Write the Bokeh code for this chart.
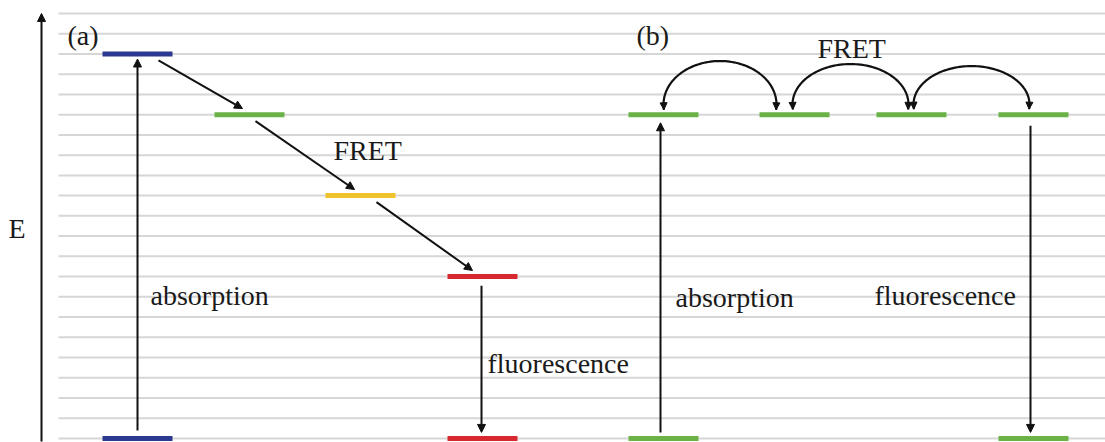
import numpy as np
from bokeh.plotting import figure
from bokeh.models import Range1d, Arrow, NormalHead
from bokeh.core.properties import value
from bokeh.embed import file_html
from bokeh.resources import INLINE

# ---------------- data ----------------
# (a) hetero-FRET cascade: excited-state energies (grid units)
a_states = ["donor 1", "donor 2", "donor 3", "acceptor"]
a_energy = [19, 16, 12, 8]
a_colors = ["#2b3990", "#6ab245", "#f0c22e", "#d7282f"]
a_ground_idx = [0, 3]            # states that show a ground level
# (b) homo-FRET: identical chromophores
b_states = ["chromophore 1", "chromophore 2", "chromophore 3", "chromophore 4"]
b_energy = [16, 16, 16, 16]
b_color = "#6ab245"
b_ground_idx = [0, 3]
b_fret_pairs = [(0, 1), (1, 2), (2, 3)]
ground_energy = 0
grid_levels = list(range(0, 22))

label_panel = ["(a)", "(b)"]
label_fret = "FRET"
label_abs = "absorption"
label_fl = "fluorescence"
label_E = "E"

# ---------------- layout (positions / styles) ----------------
W, H = 1105, 442
a_x = [137, 249, 360, 482]
b_x = [663, 794, 911, 1033]
half_w = 35
bar_w = 5
FONT = value("Liberation Serif")
FS = "28px"
TXT = "#1a1a1a"
px_per = 20.24
y0_px = 438.0

p = figure(width=W, height=H, output_backend="svg", toolbar_location=None,
           x_range=Range1d(0, W),
           y_range=Range1d(-(H - y0_px) / px_per, y0_px / px_per),
           min_border=0, background_fill_color="white", border_fill_color="white")
p.axis.visible = False
p.grid.visible = False
p.outline_line_color = None

# background grey lines
p.segment(x0=[58] * len(grid_levels), x1=[1110] * len(grid_levels),
          y0=grid_levels, y1=grid_levels, line_color="#d6d6d6", line_width=2)

# energy levels (a)
p.segment(x0=[x - half_w for x in a_x], x1=[x + half_w for x in a_x],
          y0=a_energy, y1=a_energy, line_color=a_colors, line_width=bar_w)
p.segment(x0=[a_x[i] - half_w for i in a_ground_idx], x1=[a_x[i] + half_w for i in a_ground_idx],
          y0=[ground_energy] * len(a_ground_idx), y1=[ground_energy] * len(a_ground_idx),
          line_color=[a_colors[i] for i in a_ground_idx], line_width=bar_w)
# energy levels (b)
p.segment(x0=[x - half_w for x in b_x], x1=[x + half_w for x in b_x],
          y0=b_energy, y1=b_energy, line_color=b_color, line_width=bar_w)
p.segment(x0=[b_x[i] - half_w for i in b_ground_idx], x1=[b_x[i] + half_w for i in b_ground_idx],
          y0=[ground_energy] * len(b_ground_idx), y1=[ground_energy] * len(b_ground_idx),
          line_color=b_color, line_width=bar_w)


def arrow(x0, y0, x1, y1, size=8, lw=2):
    p.add_layout(Arrow(end=NormalHead(size=size, fill_color="#111111", line_color="#111111", line_width=1),
                       x_start=x0, y_start=y0, x_end=x1, y_end=y1,
                       line_color="#111111", line_width=lw))


# E axis
arrow(41, ground_energy - 0.15, 41, grid_levels[-1], size=8)

# (a) absorption and fluorescence
arrow(a_x[0], ground_energy + 0.4, a_x[0], a_energy[0] - 0.25)
arrow(a_x[3] - 1, a_energy[3] - 0.45, a_x[3] - 1, ground_energy + 0.3)
# (a) FRET steps
start_dx = [21, 6, 16]
end_dx = [-7, -6, -10]
for i in range(3):
    arrow(a_x[i] + start_dx[i], a_energy[i] - 0.32,
          a_x[i + 1] + end_dx[i], a_energy[i + 1] + 0.3)

# (b) absorption and fluorescence
arrow(b_x[0] - 3, ground_energy + 0.3, b_x[0] - 3, b_energy[0] - 0.4)
arrow(b_x[3] - 3, b_energy[3] - 0.55, b_x[3] - 3, ground_energy + 0.3)

# (b) FRET arcs (double-headed)
arc_ends = [(0, -18), (-2, -3), (2, -4)]
arc_tops = [2.15, 2.0, 1.9]
for k, (i, j) in enumerate(b_fret_pairs):
    dxl, dxr = arc_ends[k]
    xl = b_x[i] + dxl
    xr = b_x[j] + dxr
    base = b_energy[i] + 0.5
    cx, a = (xl + xr) / 2, (xr - xl) / 2
    t = np.linspace(-0.12, np.pi + 0.12, 90)
    xs = cx + a * np.cos(t)
    ys = base + arc_tops[k] * np.sin(t)
    p.line(xs, ys, line_color="#111111", line_width=2.2)
    tt = 0.05
    te = -0.12
    arrow(cx + a * np.cos(tt), base + arc_tops[k] * np.sin(tt),
          cx + a * np.cos(te), base + arc_tops[k] * np.sin(te), size=7, lw=0.1)
    arrow(cx + a * np.cos(np.pi - tt), base + arc_tops[k] * np.sin(np.pi - tt),
          cx + a * np.cos(np.pi - te), base + arc_tops[k] * np.sin(np.pi - te), size=7, lw=0.1)

# texts
tx = [67, 636, 333, 817, 150, 675, 487, 874, 8]
ty = [19.91, 19.91, 14.23, 19.27, 7.07, 6.97, 3.71, 7.07, 10.38]
tt_ = [label_panel[0], label_panel[1], label_fret, label_fret, label_abs, label_abs,
       label_fl, label_fl, label_E]
p.text(x=tx, y=ty, text=tt_, text_font=FONT, text_font_size=FS, text_color=TXT,
       text_baseline="alphabetic", text_align="left")

open("out.html", "w").write(file_html(p, INLINE))
